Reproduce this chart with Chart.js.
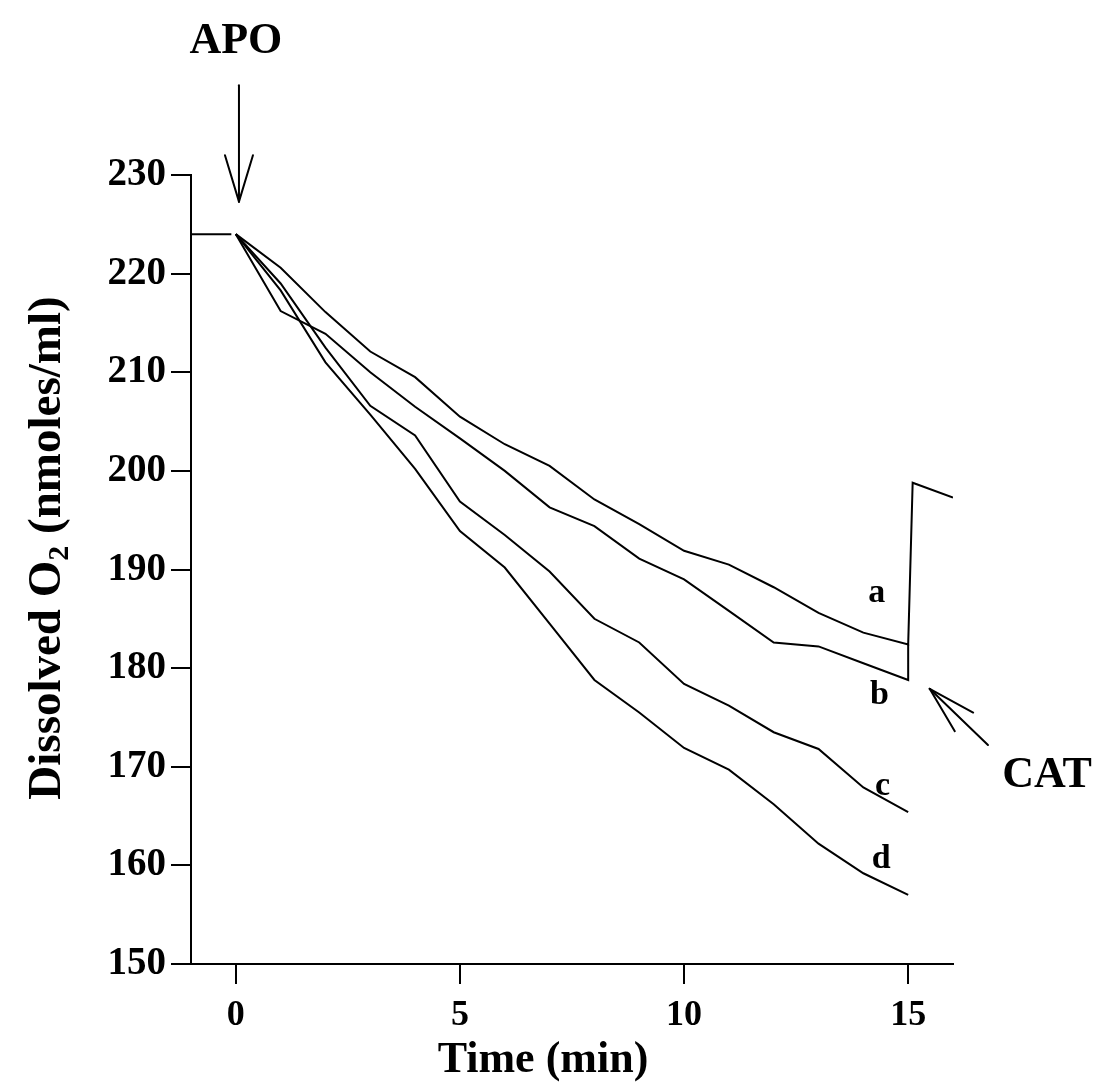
<!DOCTYPE html>
<html>
<head>
<meta charset="utf-8">
<script src="https://cdn.jsdelivr.net/npm/chart.js@4.4.0/dist/chart.umd.min.js"></script>
<style>
  html, body { margin: 0; padding: 0; background: #fff; }
  #wrap { width: 1096px; height: 1088px; }
</style>
</head>
<body>
<div id="wrap"><canvas id="chart" width="1096" height="1088"></canvas></div>
<script>
// time in minutes after APO addition
const minutes = [0, 1, 2, 3, 4, 5, 6, 7, 8, 9, 10, 11, 12, 13, 14, 15]

// dissolved O2 (nmoles/ml) for each trace
const curveA = [224, 220.6, 216.1, 212.1, 209.5, 205.5, 202.7, 200.5, 197.1, 194.6, 191.9, 190.5, 188.2, 185.6, 183.6, 182.4]
const curveB = [224, 216.2, 213.9, 210.0, 206.5, 203.3, 200.0, 196.3, 194.4, 191.1, 189.0, 185.8, 182.6, 182.2, 180.5, 178.8]
const curveC = [224, 219.0, 212.5, 206.6, 203.6, 196.9, 193.5, 189.8, 185.0, 182.6, 178.4, 176.2, 173.5, 171.8, 167.9, 165.4]
const curveD = [224, 218.3, 211.0, 205.7, 200.2, 193.9, 190.2, 184.5, 178.8, 175.5, 171.9, 169.7, 166.2, 162.2, 159.2, 157.0]

// baseline before APO, and trace a after catalase
const baselineTime = [-1, -0.1]
const baselineO2 = [224, 224]
const catTime = [15.1, 16]
const catO2 = [198.8, 197.3]

const xTicks = [0, 5, 10, 15]
const traceLabels = ["a", "b", "c", "d"]
const traceLabelPos = [
    [14.3, 187.6],
    [14.36, 177.3],
    [14.43, 168.0],
    [14.4, 160.6],
]

const toPoints = (xs, ys) => xs.map((x, i) => ({ x: x, y: ys[i] }))

const serif = "'Liberation Serif', 'Times New Roman', serif"

const lineStyle = {
    borderColor: "#000",
    borderWidth: 2,
    pointRadius: 0,
    tension: 0,
    fill: false,
}

const datasets = [
    { label: "baseline", data: toPoints(baselineTime, baselineO2) },
    { label: "a", data: toPoints(minutes, curveA).concat(toPoints(catTime, catO2)) },
    { label: "b", data: toPoints(minutes, curveB).concat([{ x: 15, y: curveA[15] }]) },
    { label: "c", data: toPoints(minutes, curveC) },
    { label: "d", data: toPoints(minutes, curveD) },
].map((d) => Object.assign({}, lineStyle, d))

// arrows, APO / CAT markers, trace letters and axis titles
const annotations = {
    id: "annotations",
    afterDraw(chart) {
        const { ctx } = chart
        const xs = chart.scales.x
        const ys = chart.scales.y
        const px = (t) => xs.getPixelForValue(t)
        const py = (v) => ys.getPixelForValue(v)

        ctx.save()
        ctx.strokeStyle = "#000"
        ctx.fillStyle = "#000"
        ctx.lineWidth = 2
        ctx.lineCap = "round"

        const seg = (x1, y1, x2, y2) => {
            ctx.beginPath()
            ctx.moveTo(x1, y1)
            ctx.lineTo(x2, y2)
            ctx.stroke()
        }

        // APO arrow
        const apoX = px(0.07)
        const apoTip = py(227.3)
        seg(apoX, py(239.1), apoX, apoTip)
        seg(apoX, apoTip, apoX - 14, py(232.0))
        seg(apoX, apoTip, apoX + 14, py(232.0))

        // CAT arrow
        const catTipX = px(15.48)
        const catTipY = py(177.9)
        seg(catTipX, catTipY, px(16.78), py(172.2))
        seg(catTipX, catTipY, px(16.45), py(175.5))
        seg(catTipX, catTipY, px(16.04), py(173.6))

        ctx.textAlign = "center"
        ctx.textBaseline = "middle"
        ctx.font = "bold 44px " + serif
        ctx.fillText("APO", px(0), 42)
        ctx.fillText("CAT", px(18.1), py(169.1))

        ctx.font = "bold 34px " + serif
        traceLabels.forEach((label, i) => {
            ctx.fillText(label, px(traceLabelPos[i][0]), py(traceLabelPos[i][1]))
        })

        // x axis title
        ctx.font = "bold 44px " + serif
        ctx.fillText("Time (min)", 543, 1061)

        // y axis title with subscript
        ctx.translate(60, 548)
        ctx.rotate(-Math.PI / 2)
        ctx.textAlign = "left"
        ctx.textBaseline = "alphabetic"
        const big = "bold 47px " + serif
        const small = "bold 30px " + serif
        const parts = [
            { text: "Dissolved O", font: big, dy: 0 },
            { text: "2", font: small, dy: 8 },
            { text: " (nmoles/ml)", font: big, dy: 0 },
        ]
        let total = 0
        parts.forEach((p) => {
            ctx.font = p.font
            p.w = ctx.measureText(p.text).width
            total += p.w
        })
        let cx = -total / 2
        parts.forEach((p) => {
            ctx.font = p.font
            ctx.fillText(p.text, cx, p.dy)
            cx += p.w
        })
        ctx.restore()
    },
}

new Chart(document.getElementById("chart"), {
    type: "line",
    data: { datasets: datasets },
    plugins: [annotations],
    options: {
        responsive: false,
        animation: false,
        devicePixelRatio: 1,
        layout: {
            padding: { left: 0, top: 175, right: 143, bottom: 0 },
        },
        plugins: {
            legend: { display: false },
            tooltip: { enabled: false },
            title: { display: false },
        },
        scales: {
            x: {
                type: "linear",
                min: -1,
                max: 16,
                afterBuildTicks: (scale) => {
                    scale.ticks = xTicks.map((v) => ({ value: v }))
                },
                afterFit: (scale) => {
                    scale.height = 124
                },
                border: { display: true, color: "#000", width: 2 },
                grid: {
                    drawOnChartArea: false,
                    drawTicks: true,
                    tickLength: 20,
                    color: "#000",
                    lineWidth: 2,
                },
                ticks: {
                    color: "#000",
                    padding: 10,
                    maxRotation: 0,
                    font: { family: serif, size: 36, weight: "bold" },
                },
            },
            y: {
                min: 150,
                max: 230,
                afterFit: (scale) => {
                    scale.width = 191
                },
                border: { display: true, color: "#000", width: 2 },
                grid: {
                    drawOnChartArea: false,
                    drawTicks: true,
                    tickLength: 20,
                    color: "#000",
                    lineWidth: 2,
                },
                ticks: {
                    stepSize: 10,
                    color: "#000",
                    padding: 5,
                    font: { family: serif, size: 39, weight: "bold" },
                },
            },
        },
    },
})
</script>
</body>
</html>
